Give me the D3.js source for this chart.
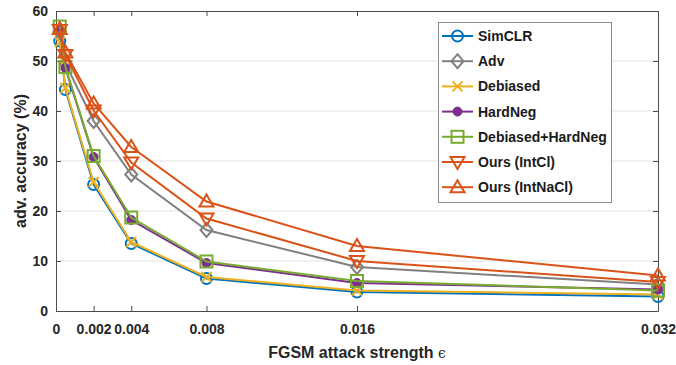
<!DOCTYPE html>
<html><head><meta charset="utf-8">
<script src="https://cdn.jsdelivr.net/npm/d3@7"></script>
<style>body{margin:0;background:#fff}svg{display:block}</style>
</head><body>
<svg id="c" width="676" height="365"></svg>
<script>
const epsilons = [0.0002, 0.0005, 0.002, 0.004, 0.008, 0.016, 0.032];
const xTickValues = [0, 0.002, 0.004, 0.008, 0.016, 0.032];
const xTickLabels = ["0", "0.002", "0.004", "0.008", "0.016", "0.032"];
const yTickValues = [0, 10, 20, 30, 40, 50, 60];
const seriesNames = ["SimCLR", "Adv", "Debiased", "HardNeg", "Debiased+HardNeg", "Ours (IntCl)", "Ours (IntNaCl)"];
const simclr   = [54.0, 44.3, 25.3, 13.5, 6.5, 3.8, 2.9];
const adv      = [55.8, 49.5, 38.0, 27.3, 16.2, 8.8, 5.3];
const debiased = [53.8, 44.6, 25.8, 13.8, 6.8, 4.1, 3.3];
const hardneg  = [56.2, 48.6, 30.8, 18.2, 9.6, 5.6, 4.3];
const debHard  = [56.9, 48.8, 31.0, 18.7, 9.9, 6.0, 4.1];
const intcl    = [56.2, 51.2, 40.1, 29.7, 18.5, 10.0, 5.8];
const intnacl  = [56.4, 51.7, 41.5, 32.8, 21.9, 13.0, 7.1];

const colors  = ["#0072BD", "#808080", "#EDB120", "#7E2F8E", "#77AC30", "#D95319", "#D95319"];
const markers = ["circle", "diamond", "x", "dot", "square", "tdown", "tup"];
const allValues = [simclr, adv, debiased, hardneg, debHard, intcl, intnacl];

const svg = d3.select("#c");
const L = 56, R = 658, T = 11, B = 311;
const x = d3.scaleLinear().domain([0, 0.032]).range([L, R]);
const y = d3.scaleLinear().domain([0, 60]).range([B, T]);
const axisColor = "#4d4d4d";
const font = "'Liberation Sans', Arial, sans-serif";

// grid
svg.append("g").selectAll("line").data(yTickValues.slice(1, -1)).join("line")
  .attr("x1", L).attr("x2", R).attr("y1", d => y(d)).attr("y2", d => y(d))
  .attr("stroke", "#e3e3e3").attr("stroke-width", 1);

// axes
const gx = svg.append("g").attr("transform", `translate(0,${B})`)
  .call(d3.axisBottom(x).tickValues(xTickValues).tickFormat((d, i) => xTickLabels[i]).tickSizeInner(-5).tickSizeOuter(0).tickPadding(13));
const gxt = svg.append("g").attr("transform", `translate(0,${T})`)
  .call(d3.axisTop(x).tickValues(xTickValues).tickFormat("").tickSizeInner(-5).tickSizeOuter(0));
const gy = svg.append("g").attr("transform", `translate(${L},0)`)
  .call(d3.axisLeft(y).tickValues(yTickValues).tickSizeInner(-5).tickSizeOuter(0).tickPadding(8));
const gyr = svg.append("g").attr("transform", `translate(${R},0)`)
  .call(d3.axisRight(y).tickValues(yTickValues).tickFormat("").tickSizeInner(-5).tickSizeOuter(0));
[gx, gxt, gy, gyr].forEach(g => {
  g.selectAll("path").attr("stroke", axisColor);
  g.selectAll("line").attr("stroke", axisColor);
  g.selectAll("text").attr("fill", "#262626").attr("font-family", font).attr("font-weight", "bold").attr("font-size", 14);
});

// labels
svg.append("text").attr("transform", `translate(26,${(T + B) / 2}) rotate(-90)`)
  .attr("text-anchor", "middle").attr("font-family", font).attr("font-weight", "bold")
  .attr("font-size", 16).attr("fill", "#262626").text("adv. accuracy (%)");
const xl = svg.append("text").attr("x", (L + R) / 2).attr("y", 358).attr("text-anchor", "middle")
  .attr("font-family", font).attr("font-weight", "bold").attr("font-size", 16).attr("fill", "#262626");
xl.append("tspan").text("FGSM attack strength ");
xl.append("tspan").attr("font-weight", "normal").attr("font-family", "'DejaVu Serif', serif").attr("font-size", 14).text("ϵ");

function drawMarker(g, type, color, cx, cy) {
  const s = 6;
  if (type === "circle") g.append("circle").attr("cx", cx).attr("cy", cy).attr("r", 5.5).attr("fill", "none").attr("stroke", color).attr("stroke-width", 2);
  else if (type === "dot") g.append("circle").attr("cx", cx).attr("cy", cy).attr("r", 4.5).attr("fill", color).attr("stroke", color).attr("stroke-width", 1);
  else if (type === "square") g.append("rect").attr("x", cx - 6).attr("y", cy - 6).attr("width", 12).attr("height", 12).attr("fill", "none").attr("stroke", color).attr("stroke-width", 2);
  else if (type === "diamond") g.append("path").attr("d", `M${cx},${cy - 7}L${cx + 6},${cy}L${cx},${cy + 7}L${cx - 6},${cy}Z`).attr("fill", "none").attr("stroke", color).attr("stroke-width", 2);
  else if (type === "x") g.append("path").attr("d", `M${cx - 5},${cy - 5}L${cx + 5},${cy + 5}M${cx - 5},${cy + 5}L${cx + 5},${cy - 5}`).attr("stroke", color).attr("stroke-width", 2);
  else if (type === "tup") g.append("path").attr("d", `M${cx},${cy - 7}L${cx + 7},${cy + 5}L${cx - 7},${cy + 5}Z`).attr("fill", "none").attr("stroke", color).attr("stroke-width", 2);
  else if (type === "tdown") g.append("path").attr("d", `M${cx},${cy + 7}L${cx + 7},${cy - 5}L${cx - 7},${cy - 5}Z`).attr("fill", "none").attr("stroke", color).attr("stroke-width", 2);
}

const line = d3.line().x((d, i) => x(epsilons[i])).y(d => y(d));
allValues.forEach((vals, si) => {
  const g = svg.append("g");
  g.append("path").datum(vals).attr("d", line).attr("fill", "none").attr("stroke", colors[si]).attr("stroke-width", 2);
  vals.forEach((v, i) => drawMarker(g, markers[si], colors[si], x(epsilons[i]), y(v)));
});

// legend
const lg = svg.append("g");
lg.append("rect").attr("x", 438.5).attr("y", 22.5).attr("width", 173).attr("height", 180)
  .attr("fill", "#fff").attr("stroke", "#8c8c8c").attr("stroke-width", 1);
seriesNames.forEach((name, i) => {
  const cy = 36 + i * 25.2;
  lg.append("line").attr("x1", 442).attr("x2", 473).attr("y1", cy).attr("y2", cy).attr("stroke", colors[i]).attr("stroke-width", 2);
  drawMarker(lg, markers[i], colors[i], 457.5, cy);
  lg.append("text").attr("x", 478).attr("y", cy + 5).attr("font-family", font).attr("font-weight", "bold")
    .attr("font-size", 14).attr("fill", "#1a1a1a").text(name);
});
</script>
</body></html>
